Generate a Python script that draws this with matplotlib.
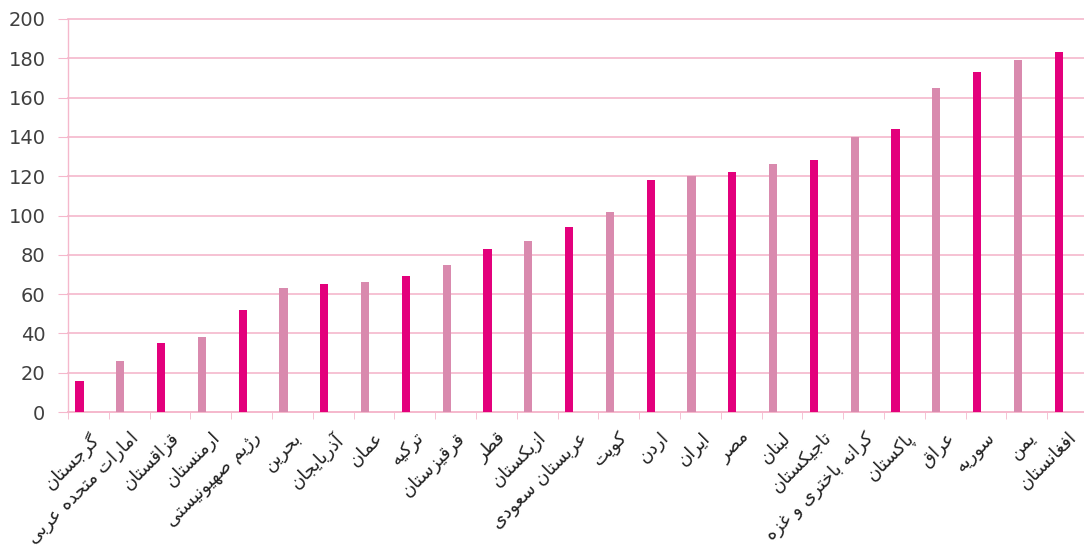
import numpy as np
import matplotlib
matplotlib.use("Agg")
import matplotlib.pyplot as plt

countries = ["گرجستان", "امارات متحده عربی", "قزاقستان", "ارمنستان", "رژیم صهیونیستی",
             "بحرین", "آذربایجان", "عمان", "ترکیه", "قرقیزستان", "قطر", "ازبکستان",
             "عربستان سعودی", "کویت", "اردن", "ایران", "مصر", "لبنان", "تاجیکستان",
             "کرانه باختری و غزه", "پاکستان", "عراق", "سوریه", "یمن", "افغانستان"]
values = [16, 26, 35, 38, 52, 63, 65, 66, 69, 75, 83, 87, 94, 102, 118, 120, 122,
          126, 128, 140, 144, 165, 173, 179, 183]
y_ticks = [0, 20, 40, 60, 80, 100, 120, 140, 160, 180, 200]

DARK = "#e3007c"
LIGHT = "#d98aae"
GRID = "#f5b8cc"

# minimal Persian shaping (presentation forms): iso, fin, ini, med
FORMS = {
    'ا': (0xFE8D, 0xFE8E, None, None), 'آ': (0xFE81, 0xFE82, None, None),
    'ب': (0xFE8F, 0xFE90, 0xFE91, 0xFE92), 'پ': (0xFB56, 0xFB57, 0xFB58, 0xFB59),
    'ت': (0xFE95, 0xFE96, 0xFE97, 0xFE98), 'ث': (0xFE99, 0xFE9A, 0xFE9B, 0xFE9C),
    'ج': (0xFE9D, 0xFE9E, 0xFE9F, 0xFEA0), 'چ': (0xFB7A, 0xFB7B, 0xFB7C, 0xFB7D),
    'ح': (0xFEA1, 0xFEA2, 0xFEA3, 0xFEA4), 'خ': (0xFEA5, 0xFEA6, 0xFEA7, 0xFEA8),
    'د': (0xFEA9, 0xFEAA, None, None), 'ذ': (0xFEAB, 0xFEAC, None, None),
    'ر': (0xFEAD, 0xFEAE, None, None), 'ز': (0xFEAF, 0xFEB0, None, None),
    'ژ': (0xFB8A, 0xFB8B, None, None),
    'س': (0xFEB1, 0xFEB2, 0xFEB3, 0xFEB4), 'ش': (0xFEB5, 0xFEB6, 0xFEB7, 0xFEB8),
    'ص': (0xFEB9, 0xFEBA, 0xFEBB, 0xFEBC), 'ض': (0xFEBD, 0xFEBE, 0xFEBF, 0xFEC0),
    'ط': (0xFEC1, 0xFEC2, 0xFEC3, 0xFEC4), 'ظ': (0xFEC5, 0xFEC6, 0xFEC7, 0xFEC8),
    'ع': (0xFEC9, 0xFECA, 0xFECB, 0xFECC), 'غ': (0xFECD, 0xFECE, 0xFECF, 0xFED0),
    'ف': (0xFED1, 0xFED2, 0xFED3, 0xFED4), 'ق': (0xFED5, 0xFED6, 0xFED7, 0xFED8),
    'ک': (0xFB8E, 0xFB8F, 0xFB90, 0xFB91), 'گ': (0xFB92, 0xFB93, 0xFB94, 0xFB95),
    'ل': (0xFEDD, 0xFEDE, 0xFEDF, 0xFEE0), 'م': (0xFEE1, 0xFEE2, 0xFEE3, 0xFEE4),
    'ن': (0xFEE5, 0xFEE6, 0xFEE7, 0xFEE8), 'ه': (0xFEE9, 0xFEEA, 0xFEEB, 0xFEEC),
    'و': (0xFEED, 0xFEEE, None, None), 'ی': (0xFBFC, 0xFBFD, 0xFBFE, 0xFBFF),
}


def shape(text):
    chars = list(text)
    out = []
    for i, c in enumerate(chars):
        if c not in FORMS:
            out.append(c)
            continue
        prev = chars[i - 1] if i > 0 else None
        nxt = chars[i + 1] if i + 1 < len(chars) else None
        joins_prev = prev in FORMS and FORMS[prev][2] is not None
        joins_next = nxt in FORMS and FORMS[c][2] is not None
        iso, fin, ini, med = FORMS[c]
        if joins_prev and joins_next:
            cp = med
        elif joins_prev:
            cp = fin
        elif joins_next:
            cp = ini
        else:
            cp = iso
        out.append(chr(cp))
    return "".join(reversed(out))


fig = plt.figure(figsize=(10.84, 5.59), dpi=100)
W, H = 1084, 559
left_px, right_px, top_px, bot_px = 68, 1088, 19, 412
ax = fig.add_axes([left_px / W, 1 - bot_px / H, (right_px - left_px) / W, (bot_px - top_px) / H])

x = np.arange(len(countries))
offset = 0.22
colors = [DARK if i % 2 == 0 else LIGHT for i in range(len(values))]
ax.bar(x - offset, values, width=0.2, color=colors, zorder=3)

ax.set_xlim(-0.5, len(countries) - 0.5)
ax.set_ylim(0, 200)
ax.set_yticks(y_ticks)
ax.set_yticklabels([str(t) for t in y_ticks], fontsize=14, color="#404040")
ax.yaxis.grid(True, color=GRID, linewidth=1.2, zorder=0, clip_on=False)
ax.tick_params(axis="y", length=7.2, color=GRID, pad=9)

ax.set_xticks(x)
ax.set_xticklabels([shape(c) for c in countries], rotation=45, ha="right",
                   rotation_mode="anchor", fontsize=13, color="#222222",
                   family="DejaVu Sans")
ax.tick_params(axis="x", length=0, pad=12)
ax.set_xticks(x - 0.5, minor=True)
ax.tick_params(axis="x", which="minor", length=5, color=GRID)

for s in ["top", "right"]:
    ax.spines[s].set_visible(False)
ax.spines["left"].set_color(GRID)
ax.spines["bottom"].set_color(GRID)
ax.spines["left"].set_linewidth(1.0)
ax.spines["bottom"].set_linewidth(1.2)

fig.savefig("out.png", dpi=100, facecolor="white")
